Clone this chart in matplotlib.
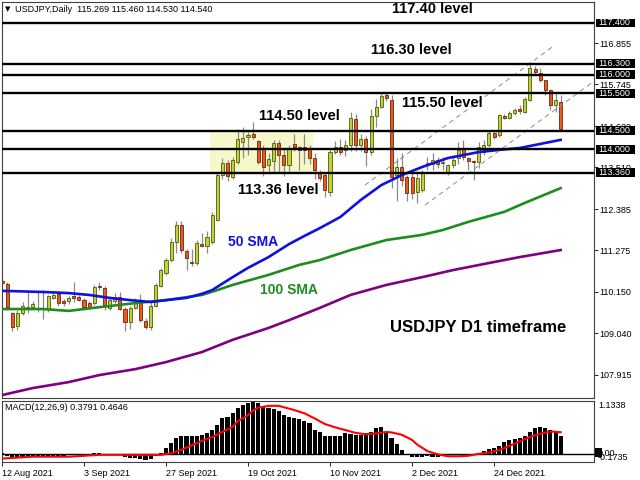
import numpy as np
import matplotlib.pyplot as plt
from matplotlib.patches import Rectangle
from matplotlib.transforms import blended_transform_factory

plt.rcParams['font.family'] = ['Liberation Sans', 'DejaVu Sans']

# daily candles (bar index 0 = 12 Aug 2021)
opens = [110.45, 110.37, 109.58, 109.23, 109.58, 109.72, 109.75, 109.70, 109.70, 109.68,
         110.00, 110.10, 109.90, 109.90, 110.02, 110.02, 109.94, 109.85, 109.85, 110.31,
         110.25, 109.72, 109.90, 110.02, 109.69, 109.34, 109.72, 109.85, 109.38, 109.20,
         109.78, 110.32, 110.66, 111.01, 111.50, 111.96, 111.25, 110.93, 110.92, 111.45,
         111.38, 111.50, 112.10, 113.30, 113.62, 113.25, 113.65, 114.20, 114.33, 114.40,
         114.22, 114.00, 113.58, 113.68, 114.17, 113.84, 113.57, 114.15, 114.05, 114.05,
         114.00, 113.76, 113.36, 113.30, 112.85, 113.92, 114.06, 113.98, 114.10, 114.82,
         114.10, 114.27, 113.92, 114.90, 115.13, 115.45, 115.32, 113.30, 113.52, 113.25,
         113.25, 112.85, 112.90, 113.60, 113.60, 113.71, 113.62, 113.36, 113.57, 113.76,
         114.00, 113.75, 113.66, 113.65, 113.92, 114.11, 114.44, 114.38, 114.89, 114.84,
         114.97, 115.06, 115.00, 115.32, 116.16, 116.05, 115.86, 115.59, 115.19, 115.269]
highs = [110.55, 110.42, 109.61, 109.66, 109.88, 110.18, 109.90, 110.15, 110.20, 110.06,
         110.12, 110.18, 109.95, 110.05, 110.42, 110.08, 109.98, 109.90, 110.34, 110.42,
         110.32, 110.00, 110.12, 110.15, 109.75, 109.78, 110.00, 110.10, 109.45, 109.88,
         110.40, 110.80, 111.06, 111.60, 112.05, 112.05, 111.30, 111.30, 111.55, 111.75,
         111.80, 112.30, 113.35, 113.75, 113.70, 113.80, 114.55, 114.60, 114.45, 114.73,
         114.25, 114.10, 113.90, 114.25, 114.25, 114.02, 114.10, 114.42, 114.08, 114.42,
         114.10, 113.90, 113.43, 113.35, 114.00, 114.22, 114.28, 114.25, 115.00, 114.95,
         114.40, 114.35, 115.08, 115.35, 115.52, 115.52, 115.45, 113.75, 113.90, 113.30,
         113.38, 113.40, 113.45, 113.78, 113.90, 113.80, 113.78, 113.60, 113.85, 114.20,
         114.25, 113.80, 113.72, 114.20, 114.25, 114.50, 114.50, 114.95, 114.95, 115.02,
         115.10, 115.19, 115.40, 116.35, 116.25, 116.20, 115.86, 115.62, 115.50, 115.460]
lows = [110.30, 109.66, 109.10, 109.13, 109.53, 109.58, 109.68, 109.60, 109.42, 109.62,
        109.95, 109.78, 109.78, 109.82, 109.88, 109.90, 109.66, 109.68, 109.80, 110.20,
        109.66, 109.66, 109.85, 109.66, 109.10, 109.15, 109.68, 109.35, 109.15, 109.12,
        109.75, 110.28, 110.60, 110.95, 111.20, 111.20, 110.73, 110.85, 110.88, 111.35,
        111.20, 111.45, 112.05, 113.20, 113.15, 113.20, 113.60, 113.75, 113.85, 114.28,
        113.60, 113.28, 113.33, 113.37, 113.37, 113.28, 113.37, 113.95, 113.45, 113.60,
        113.60, 113.20, 113.15, 112.70, 112.75, 113.88, 113.85, 113.82, 113.95, 113.95,
        113.95, 113.55, 113.85, 114.60, 115.10, 115.30, 112.95, 112.60, 113.00, 112.60,
        112.65, 112.55, 112.85, 113.44, 113.45, 113.50, 113.44, 113.30, 113.50, 113.60,
        113.70, 113.45, 113.17, 113.50, 113.85, 114.05, 114.28, 114.33, 114.80, 114.80,
        114.93, 114.95, 114.97, 115.30, 116.00, 115.80, 115.45, 115.05, 115.00, 114.530]
closes = [110.40, 109.75, 109.21, 109.58, 109.77, 109.74, 109.83, 109.68, 109.68, 110.04,
          110.08, 109.85, 109.84, 110.00, 110.00, 109.94, 109.74, 109.74, 110.28, 110.28,
          109.80, 109.93, 110.02, 109.69, 109.34, 109.72, 109.85, 109.40, 109.20, 109.78,
          110.34, 110.73, 111.01, 111.50, 111.96, 111.28, 111.06, 110.92, 111.47, 111.38,
          111.62, 112.22, 113.30, 113.62, 113.28, 113.71, 114.27, 114.30, 114.38, 114.33,
          113.65, 113.52, 113.73, 114.17, 113.84, 113.57, 114.03, 114.05, 113.98, 113.98,
          113.76, 113.44, 113.22, 112.90, 113.92, 114.06, 113.92, 114.10, 114.84, 114.10,
          114.27, 113.92, 114.90, 115.13, 115.43, 115.38, 113.25, 113.52, 113.17, 112.82,
          112.82, 113.22, 113.38, 113.62, 113.71, 113.60, 113.64, 113.57, 113.71, 113.98,
          113.78, 113.68, 113.64, 114.06, 114.11, 114.44, 114.33, 114.92, 114.84, 114.97,
          115.05, 115.04, 115.35, 116.19, 116.08, 115.86, 115.59, 115.19, 115.32, 114.540]

# moving averages, read at sample bars
sma50_idx = [0, 8, 13, 17, 21, 25, 29, 32, 36, 39, 41, 45, 48, 52, 56, 59, 62, 66, 70, 74,
             78, 82, 87, 93, 97, 101, 105, 109]
sma50_val = [110.18, 110.15, 110.12, 110.07, 109.99, 109.93, 109.88, 109.93, 109.99, 110.10,
             110.20, 110.55, 110.80, 111.09, 111.44, 111.66, 111.87, 112.17, 112.63, 113.03,
             113.30, 113.52, 113.76, 113.92, 113.98, 114.03, 114.14, 114.25]
sma100_idx = [0, 8, 13, 19, 26, 32, 39, 42, 45, 52, 58, 62, 68, 75, 82, 86, 91, 98, 102, 109]
sma100_val = [109.69, 109.69, 109.64, 109.74, 109.85, 109.93, 110.07, 110.20, 110.34, 110.61,
              110.88, 111.01, 111.28, 111.55, 111.69, 111.82, 112.04, 112.31, 112.55, 112.95]
sma200_idx = [0, 6, 13, 19, 26, 32, 39, 45, 52, 56, 62, 68, 75, 82, 88, 95, 101, 109]
sma200_val = [107.37, 107.56, 107.72, 107.91, 108.07, 108.26, 108.53, 108.86, 109.18, 109.39,
              109.72, 110.07, 110.34, 110.55, 110.74, 110.93, 111.09, 111.28]

# MACD(12,26,9)
macd_hist = [0.02, -0.05, -0.06, -0.06, -0.06, -0.05, -0.05, -0.05, -0.05, -0.04,
             -0.04, -0.04, -0.04, -0.03, -0.03, -0.03, -0.02, -0.02, 0.01, 0.01,
             -0.01, -0.02, -0.02, -0.03, -0.06, -0.08, -0.08, -0.10, -0.13, -0.10,
             -0.04, 0.03, 0.12, 0.23, 0.35, 0.38, 0.38, 0.38, 0.39, 0.41,
             0.44, 0.52, 0.63, 0.76, 0.79, 0.87, 0.98, 1.05, 1.10, 1.12,
             1.10, 1.03, 0.98, 0.96, 0.93, 0.83, 0.80, 0.78, 0.74, 0.71,
             0.66, 0.52, 0.47, 0.38, 0.38, 0.38, 0.38, 0.44, 0.42, 0.41,
             0.41, 0.44, 0.47, 0.55, 0.58, 0.45, 0.35, 0.22, 0.08, 0.00,
             -0.07, -0.07, -0.07, -0.05, -0.07, -0.07, -0.05, -0.03, -0.02, -0.02,
             -0.02, 0.00, 0.00, 0.03, 0.07, 0.10, 0.12, 0.17, 0.25, 0.30,
             0.33, 0.35, 0.38, 0.47, 0.55, 0.58, 0.56, 0.52, 0.47, 0.3791]
signal_idx = [0, 6, 13, 19, 26, 31, 33, 35, 37, 39, 41, 43, 45, 46, 48, 49, 50, 52, 54, 55,
              57, 59, 61, 63, 65, 67, 69, 71, 73, 75, 76, 78, 80, 81, 83, 85, 87, 89, 91, 93,
              95, 97, 99, 101, 103, 105, 107, 109]
signal_val = [-0.10, -0.06, -0.06, -0.02, -0.02, -0.02, 0.01, 0.09, 0.18, 0.28, 0.36, 0.47,
              0.58, 0.70, 0.83, 0.93, 0.99, 1.03, 1.03, 1.00, 0.94, 0.87, 0.76, 0.64, 0.57,
              0.51, 0.45, 0.42, 0.44, 0.47, 0.46, 0.41, 0.30, 0.20, 0.06, -0.01, -0.05,
              -0.05, -0.04, 0.00, 0.03, 0.08, 0.17, 0.27, 0.36, 0.43, 0.48, 0.4646]

date_idx = [0, 16, 32, 48, 64, 80, 96]
date_labels = ['12 Aug 2021', '3 Sep 2021', '27 Sep 2021', '19 Oct 2021',
               '10 Nov 2021', '2 Dec 2021', '24 Dec 2021']

levels = [117.40, 116.30, 116.00, 115.50, 114.50, 114.00, 113.36]
level_tags = ['117.400', '116.300', '116.000', '115.500', '114.500', '114.000', '113.360']
price_ticks = [116.855, 115.745, 114.620, 113.510, 112.385, 111.275, 110.150, 109.040, 107.915]

# drawn objects: consolidation box and the rising channel
box_idx = [40.6, 60.7]
box_price = [113.36, 114.50]
chan_upper_idx = [70.8, 107.9]
chan_upper_val = [113.03, 116.81]
chan_lower_idx = [82.5, 115.3]
chan_lower_val = [112.49, 115.81]


def px(x, y):
    return x / 640, 1 - y / 480


fig = plt.figure(figsize=(6.4, 4.8), dpi=100)
ax = fig.add_axes([2 / 640, 1 - 398 / 480, 592 / 640, 396 / 480])
ax2 = fig.add_axes([2 / 640, 1 - 462 / 480, 592 / 640, 61 / 480])

o, h, l, c = (np.array(a) for a in (opens, highs, lows, closes))
idx = np.arange(len(o))
up = c >= o
body_lo = np.minimum(o, c)
body_h = np.maximum(np.abs(c - o), 0.03)

ax.add_patch(Rectangle((box_idx[0], box_price[0]), box_idx[1] - box_idx[0],
                       box_price[1] - box_price[0], facecolor='#f7f7cc',
                       edgecolor='none', zorder=0))
ax.vlines(idx, l, h, color='#8a8a8a', lw=0.9, zorder=2)
ax.bar(idx[up], body_h[up], bottom=body_lo[up], width=0.6, color='#c2d236',
       edgecolor='#4f5a0a', lw=0.6, zorder=3)
ax.bar(idx[~up], body_h[~up], bottom=body_lo[~up], width=0.6, color='#ee5a1e',
       edgecolor='#6e2508', lw=0.6, zorder=3)

ax.plot(sma200_idx, sma200_val, color='#800080', lw=1.9, zorder=4)
ax.plot(sma100_idx, sma100_val, color='#1e8c1e', lw=1.9, zorder=4)
ax.plot(sma50_idx, sma50_val, color='#1010e0', lw=1.9, zorder=4)

ax.plot(chan_upper_idx, chan_upper_val, color='#8c8c8c', lw=0.7, ls=(0, (5, 4)), zorder=4)
ax.plot(chan_lower_idx, chan_lower_val, color='#8c8c8c', lw=0.7, ls=(0, (5, 4)), zorder=4)

for lv in levels:
    ax.axhline(lv, color='black', lw=1.7, zorder=5)

ax.set_xlim(0, 115.5)
ax.set_ylim(107.292, 117.966)
ax.set_xticks([])
ax.yaxis.tick_right()
ax.set_yticks(price_ticks)
ax.set_yticklabels([f'{t:.3f}' for t in price_ticks])
ax.tick_params(axis='y', length=3, width=0.6, pad=1, labelsize=6.5, colors='black')
for s in ax.spines.values():
    s.set_linewidth(0.8)
    s.set_color('#404040')

tr = blended_transform_factory(ax.transAxes, ax.transData)
for lv, tag in zip(levels, level_tags):
    ax.add_patch(Rectangle((1.0034, lv - 0.12), 0.0659, 0.24, transform=tr,
                           facecolor='black', edgecolor='none', clip_on=False, zorder=6))
    ax.text(1.0068, lv, tag, transform=tr, color='white', fontsize=6.5,
            va='center', ha='left', clip_on=False, zorder=7)

# MACD panel
ax2.bar(idx, macd_hist, width=0.8, color='black', zorder=2)
ax2.axhline(0, color='black', lw=1.0, zorder=3)
ax2.plot(signal_idx, signal_val, color='#ff0000', lw=1.5, zorder=4)
ax2.set_xlim(0, 115.5)
ax2.set_ylim(-0.1735, 1.1338)
ax2.set_yticks([])
ax2.set_xticks(date_idx)
ax2.set_xticklabels(date_labels)
ax2.tick_params(axis='x', length=3, width=0.6, pad=2, labelsize=6.5)
for t in ax2.get_xticklabels():
    t.set_ha('left')
for s in ax2.spines.values():
    s.set_linewidth(0.8)
    s.set_color('#404040')

fig.text(*px(598, 405), '1.1338', fontsize=6.5, va='center', ha='left')
fig.patches.append(Rectangle(px(595, 457), 7 / 640, 9 / 480, transform=fig.transFigure,
                             facecolor='black', edgecolor='none'))
fig.text(*px(598, 453), '0.00', fontsize=6.5, va='center', ha='left')
fig.text(*px(598, 458), '-0.1735', fontsize=6.5, va='center', ha='left')
fig.text(*px(5, 407), 'MACD(12,26,9) 0.3791 0.4646', fontsize=6.5, va='center', ha='left')

# header
fig.text(*px(5, 9), '▼', fontsize=5, va='center', ha='left', family='DejaVu Sans')
fig.text(*px(15, 9), 'USDJPY,Daily  115.269 115.460 114.530 114.540', fontsize=6.5,
         va='center', ha='left')

# annotations
bold = dict(fontsize=10.5, fontweight='bold', ha='center', va='center')
fig.text(*px(432, 9), '117.40 level', **bold)
fig.text(*px(411, 50), '116.30 level', **bold)
fig.text(*px(442, 103), '115.50 level', **bold)
fig.text(*px(299, 116), '114.50 level', **bold)
fig.text(*px(278, 190), '113.36 level', **bold)
fig.text(*px(253, 242), '50 SMA', color='#1010e0', **dict(bold, fontsize=10))
fig.text(*px(289, 290), '100 SMA', color='#1e8c1e', **dict(bold, fontsize=10))
fig.text(*px(478, 328), 'USDJPY D1 timeframe', **dict(bold, fontsize=12))

fig.savefig('out.png', dpi=100, facecolor='white')
